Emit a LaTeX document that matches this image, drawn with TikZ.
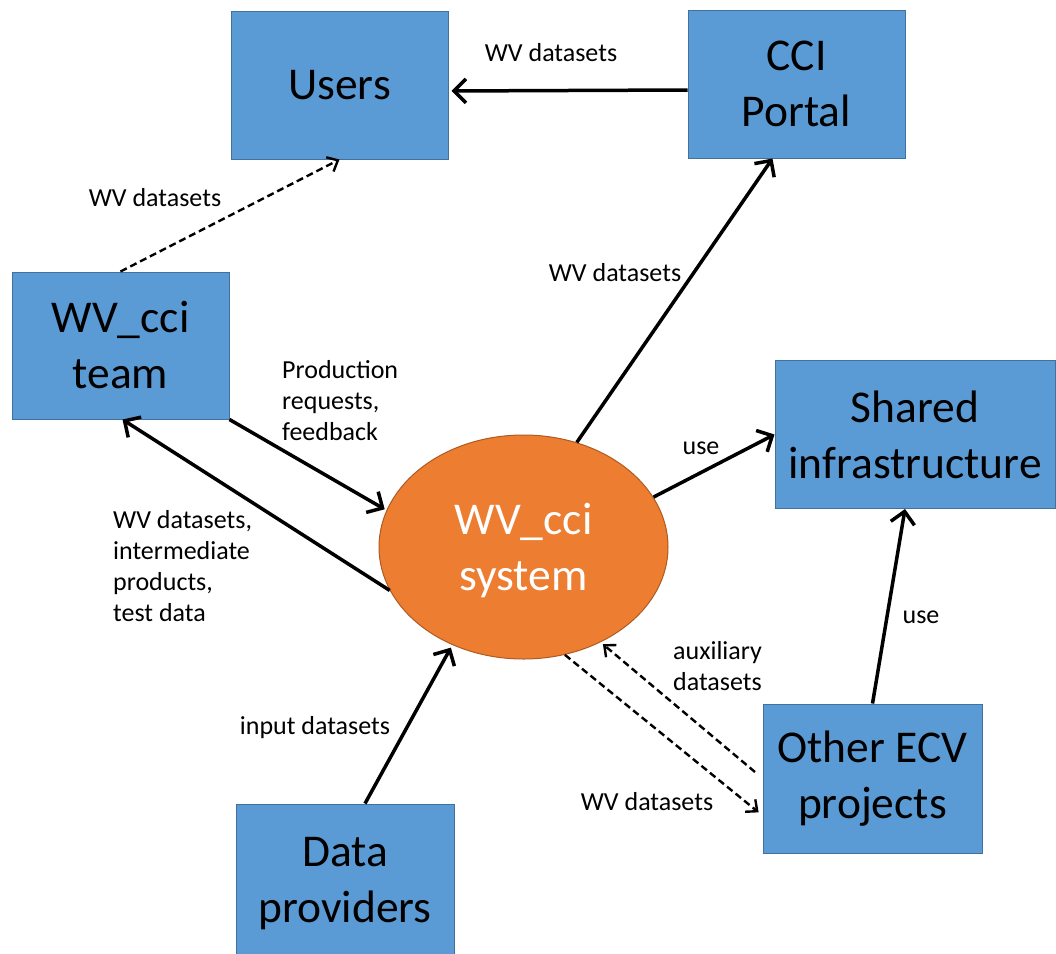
\documentclass[tikz,border=0pt]{standalone}
\usepackage{fontspec}
\setmainfont{Carlito}
\usetikzlibrary{arrows.meta,shapes.geometric}
\definecolor{boxblue}{HTML}{5B9BD5}
\definecolor{boxedge}{HTML}{41719C}
\definecolor{sysorange}{HTML}{ED7D31}
\definecolor{sysedge}{HTML}{AE5A21}
\begin{document}
\begin{tikzpicture}[x=1pt,y=-1pt,
  box/.style={draw=boxedge,fill=boxblue,line width=1pt,minimum width=217pt,minimum height=148pt,inner sep=0pt,align=center,font=\fontsize{45.5}{56}\selectfont},
  lbl/.style={font=\fontsize{26}{31}\selectfont,inner sep=0pt,align=left},
  solidarr/.style={line width=3.5pt,-{Straight Barb[length=12pt,width=24pt]}},
  dasharr/.style={line width=2.4pt,dash pattern=on 7pt off 4pt,-{Straight Barb[length=9pt,width=16pt]}}]
\useasboundingbox (0,0) rectangle (1056,953);
\node[box] (users) at (339.5,85) {Users};
\node[box] (portal) at (796.5,84) {CCI\\Portal};
\node[box,minimum height=147pt] (team) at (120.5,345.5) {WV\_cci\\team};
\node[box,minimum width=280pt] (shared) at (915,434.5) {Shared\\infrastructure};
\node[box,minimum width=219pt,minimum height=149pt] (other) at (872.5,778.5) {Other ECV\\projects};
\node[box,minimum width=218pt,minimum height=160pt] (data) at (345,884) {Data\\providers};
\node[ellipse,draw=sysedge,fill=sysorange,line width=1pt,minimum width=289pt,minimum height=224pt,inner sep=0pt] (sys) at (523.5,547) {};
\node[text=white,align=center,inner sep=0pt,font=\fontsize{45.5}{56}\selectfont] (systxt) at (523.5,551) {WV\_cci\\system};
\coordinate (auxs) at (755,772);
\draw[solidarr,shorten >=3pt] ([yshift=-6pt]portal.west) -- ([yshift=-6pt]users.east);
\draw[dasharr] (team.north) -- (users.south);
\draw[solidarr] (sys.63) -- ([xshift=-24pt]portal.south);
\draw[solidarr,shorten >=2pt] (team.south east) -- (sys.165);
\draw[solidarr] (sys.198) -- ([xshift=2pt]team.south);
\draw[solidarr] (sys.21) -- (shared.west);
\draw[solidarr] (other.north) -- ([xshift=-10pt]shared.south);
\draw[solidarr,shorten >=3pt] ([xshift=20pt]data.north) -- (sys.234);
\draw[dasharr,shorten >=3pt] (auxs) -- (sys.-51);
\draw[dasharr,shorten >=5pt] (sys.-69) -- ([yshift=-37pt]other.west);
\node[lbl] (l1) at (551,53) {WV datasets};
\node[lbl] (l2) at (155,198) {WV datasets};
\node[lbl] (l3) at (615,273) {WV datasets};
\node[lbl,anchor=west] (l4) at (282,401) {Production\\requests,\\feedback};
\node[lbl,anchor=west] (l5) at (113,566) {WV datasets,\\intermediate\\products,\\test data};
\node[lbl] (l6) at (701,448) {use};
\node[lbl] (l7) at (921,617) {use};
\node[lbl] (l8) at (315,728) {input datasets};
\node[lbl,anchor=west] (l9) at (673,666) {auxiliary\\datasets};
\node[lbl] (l10) at (647,802) {WV datasets};
\end{tikzpicture}
\end{document}
